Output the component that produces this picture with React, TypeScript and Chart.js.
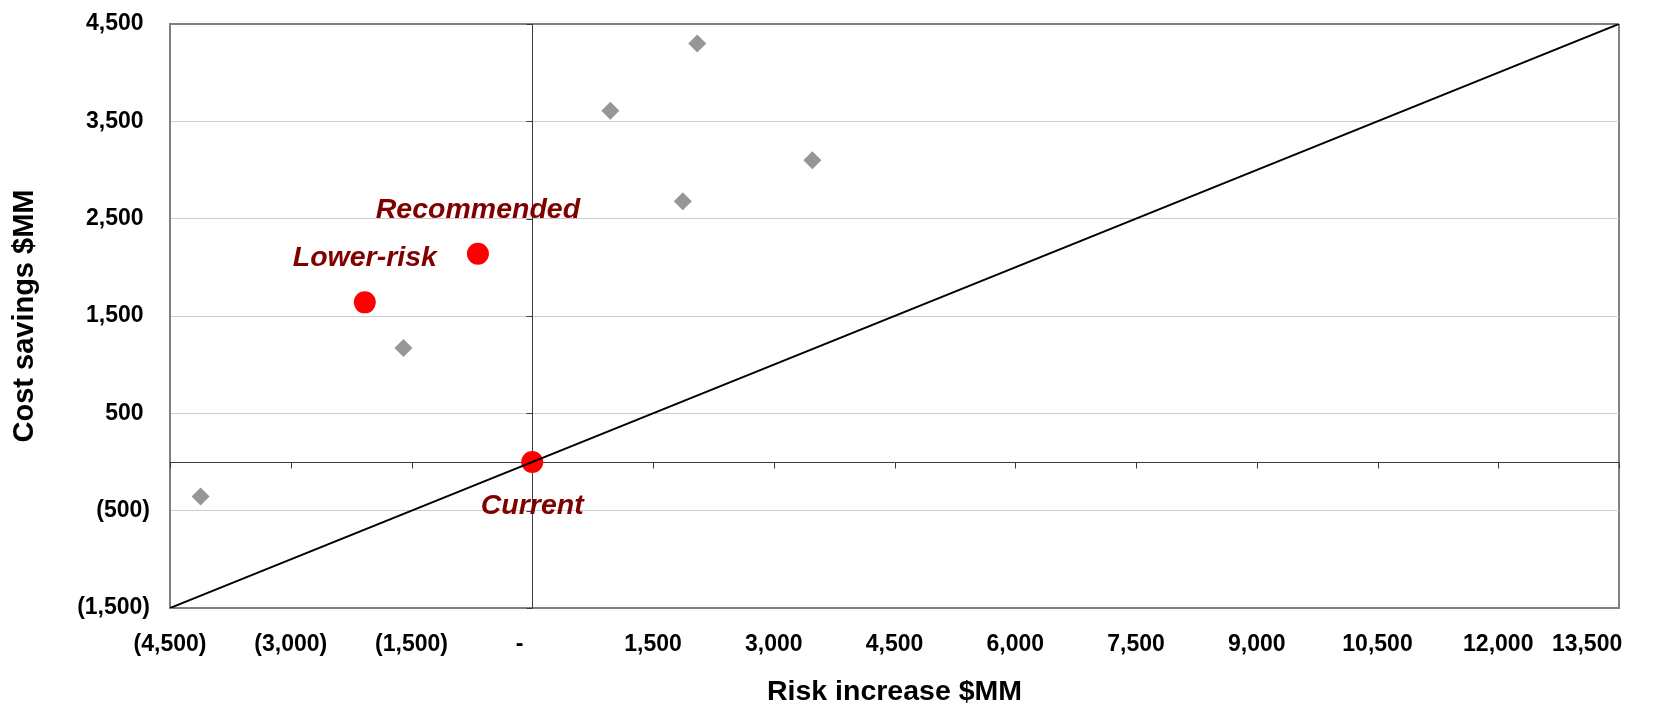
import React, { useEffect, useRef } from "react";
import { Chart, registerables } from "chart.js";

Chart.register(...registerables);

// Axis ticks
const xTickValues = [-4500, -3000, -1500, 0, 1500, 3000, 4500, 6000, 7500, 9000, 10500, 12000, 13500];
const xTickLabels = ["(4,500)", "(3,000)", "(1,500)", "-", "1,500", "3,000", "4,500", "6,000", "7,500", "9,000", "10,500", "12,000", "13,500"];
const yTickValues = [-1500, -500, 500, 1500, 2500, 3500, 4500];
const yTickLabels = ["(1,500)", "(500)", "500", "1,500", "2,500", "3,500", "4,500"];

// Other evaluated options (grey diamonds)
const optionRisk = [2050, 970, 3480, 1870, -1600, -4120];
const optionSavings = [4300, 3610, 3100, 2680, 1170, -355];

// Named scenarios (red circles)
const scenarioNames = ["Current", "Lower-risk", "Recommended"];
const scenarioRisk = [0, -2080, -675];
const scenarioSavings = [0, 1640, 2140];
const scenarioLabelSide = [1, -1, -1]; // 1 = below the point, -1 = above

// Break-even line: savings equal to one third of the added risk
const breakevenRisk = [-4500, 13500];
const breakevenSavings = [-1500, 4500];

const FONT = "'Liberation Sans', Arial, Helvetica, sans-serif";
const BORDER = "#808080";

// Accounting-style padding: the dash for zero sits left of its tick,
// and the last label is pulled back inside the plot's right edge.
function padXLabel(i: number): string {
  const t = xTickLabels[i];
  if (t === "-") return t + "    ";
  if (i === xTickLabels.length - 1) return t + "          ";
  return t;
}

const crossAxesPlugin = {
  id: "crossAxes",
  beforeDatasetsDraw(chart: any) {
    const { ctx, chartArea, scales } = chart;
    const x = scales.x;
    const y = scales.y;
    const x0 = Math.round(x.getPixelForValue(0)) + 0.5;
    const y0 = Math.round(y.getPixelForValue(0)) + 0.5;
    ctx.save();
    ctx.strokeStyle = "#3a3a3a";
    ctx.lineWidth = 1;
    ctx.beginPath();
    ctx.moveTo(chartArea.left, y0);
    ctx.lineTo(chartArea.right, y0);
    ctx.moveTo(x0, chartArea.top);
    ctx.lineTo(x0, chartArea.bottom);
    // tick marks on the horizontal zero axis
    xTickValues.forEach((v) => {
      const px = Math.round(x.getPixelForValue(v)) + 0.5;
      ctx.moveTo(px, y0);
      ctx.lineTo(px, y0 + 6);
    });
    // tick marks on the vertical zero axis
    yTickValues.forEach((v) => {
      const py = Math.round(y.getPixelForValue(v)) + 0.5;
      ctx.moveTo(x0, py);
      ctx.lineTo(x0 - 6, py);
    });
    ctx.stroke();
    ctx.restore();
  },
};

const scenarioLabelPlugin = {
  id: "scenarioLabels",
  afterDatasetsDraw(chart: any) {
    const { ctx } = chart;
    const meta = chart.getDatasetMeta(1);
    ctx.save();
    ctx.font = `italic bold 28.5px ${FONT}`;
    ctx.fillStyle = "#800000";
    ctx.textAlign = "center";
    ctx.textBaseline = "middle";
    meta.data.forEach((el: any, i: number) => {
      ctx.fillText(scenarioNames[i], el.x, el.y + scenarioLabelSide[i] * 44);
    });
    ctx.restore();
  },
};

export default function App() {
  const canvasRef = useRef<HTMLCanvasElement>(null);

  useEffect(() => {
    const canvas = canvasRef.current;
    if (!canvas) return;

    const chart = new Chart(canvas, {
      type: "scatter",
      data: {
        datasets: [
          {
            label: "Break-even",
            data: breakevenRisk.map((x, i) => ({ x, y: breakevenSavings[i] })),
            showLine: true,
            borderColor: "#000000",
            borderWidth: 2,
            pointRadius: 0,
            order: 0,
          },
          {
            label: "Scenarios",
            data: scenarioRisk.map((x, i) => ({ x, y: scenarioSavings[i] })),
            backgroundColor: "#ff0000",
            borderWidth: 0,
            pointRadius: 11,
            pointHoverRadius: 11,
            order: 1,
          },
          {
            label: "Options",
            data: optionRisk.map((x, i) => ({ x, y: optionSavings[i] })),
            pointStyle: "rectRot",
            backgroundColor: "#969696",
            borderWidth: 0,
            pointRadius: 9,
            pointHoverRadius: 9,
            order: 2,
          },
        ],
      },
      options: {
        responsive: false,
        devicePixelRatio: 1,
        animation: false,
        events: [],
        layout: { padding: { top: 24, right: 41, left: 0, bottom: 0 } },
        plugins: {
          legend: { display: false },
          tooltip: { enabled: false },
        },
        scales: {
          x: {
            type: "linear",
            min: -4500,
            max: 13500,
            afterBuildTicks: (s: any) => {
              s.ticks = xTickValues.map((value) => ({ value }));
            },
            afterFit: (s: any) => {
              s.height = 96;
              s.paddingLeft = 0;
              s.paddingRight = 0;
            },
            ticks: {
              autoSkip: false,
              maxRotation: 0,
              padding: 23,
              color: "#000000",
              font: { family: FONT, size: 23, weight: "bold" },
              callback: (_v: any, i: number) => padXLabel(i),
            },
            grid: {
              drawTicks: false,
              color: (c: any) =>
                c.tick && (c.tick.value === -4500 || c.tick.value === 13500) ? BORDER : "rgba(0,0,0,0)",
              lineWidth: 2,
            },
            border: { display: true, color: BORDER, width: 2 },
            title: {
              display: true,
              text: "Risk increase $MM",
              color: "#000000",
              font: { family: FONT, size: 28.5, weight: "bold", lineHeight: 0.8 },
              padding: { top: 0, bottom: 0.5 },
            },
          },
          y: {
            type: "linear",
            min: -1500,
            max: 4500,
            afterBuildTicks: (s: any) => {
              s.ticks = yTickValues.map((value) => ({ value }));
            },
            afterFit: (s: any) => {
              s.width = 170;
              s.paddingTop = 0;
              s.paddingBottom = 0;
            },
            ticks: {
              padding: 20,
              color: "#000000",
              font: { family: FONT, size: 23, weight: "bold" },
              callback: (_v: any, i: number) => {
                const t = yTickLabels[i];
                return t.endsWith(")") ? t : t + " ";
              },
            },
            grid: {
              drawTicks: false,
              color: (c: any) =>
                c.tick && (c.tick.value === 4500 || c.tick.value === -1500) ? BORDER : "#cccccc",
              lineWidth: (c: any) =>
                c.tick && (c.tick.value === 4500 || c.tick.value === -1500) ? 2 : 1,
            },
            border: { display: true, color: BORDER, width: 2 },
            title: {
              display: true,
              text: "Cost savings $MM",
              color: "#000000",
              font: { family: FONT, size: 29, weight: "bold", lineHeight: 1 },
              padding: { top: 10, bottom: 0 },
            },
          },
        },
      },
      plugins: [crossAxesPlugin, scenarioLabelPlugin],
    } as any);

    return () => chart.destroy();
  }, []);

  return (
    <div style={{ position: "absolute", left: 0, top: 0, width: 1660, height: 704, background: "#ffffff" }}>
      <canvas ref={canvasRef} width={1660} height={704} style={{ display: "block", width: 1660, height: 704 }} />
    </div>
  );
}
